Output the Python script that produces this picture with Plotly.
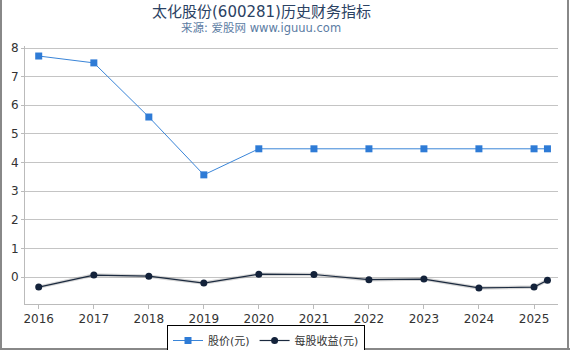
import plotly.graph_objects as go

dates = ["2016-01-01", "2017-01-01", "2018-01-01", "2019-01-01", "2020-01-01",
         "2021-01-01", "2022-01-01", "2023-01-01", "2024-01-01", "2025-01-01", "2025-03-31"]
price = [7.72, 7.48, 5.59, 3.57, 4.48, 4.48, 4.48, 4.48, 4.48, 4.48, 4.48]
eps = [-0.35, 0.07, 0.03, -0.21, 0.10, 0.09, -0.09, -0.07, -0.38, -0.35, -0.11]
tick_years = ["2016", "2017", "2018", "2019", "2020", "2021", "2022", "2023", "2024", "2025"]

FONT = "DejaVu Sans, Noto Sans CJK SC, sans-serif"

fig = go.Figure()
fig.add_trace(go.Scatter(x=dates, y=eps, mode="lines", line=dict(color="rgba(120,120,120,0.3)", width=3.5),
                         showlegend=False, hoverinfo="skip"))
fig.add_trace(go.Scatter(x=dates, y=price, mode="lines+markers", name="股价(元)",
                         line=dict(color="#3a85d8", width=1),
                         marker=dict(symbol="square", size=7, color="#2e7bd6")))
fig.add_trace(go.Scatter(x=dates, y=eps, mode="lines+markers", name="每股收益(元)",
                         line=dict(color="#1b2a3f", width=1.2),
                         marker=dict(symbol="circle", size=7, color="#13223a")))

L, R, T, B = 25, 12, 46, 46
W, H = 570, 350
pw, ph = W - L - R, H - T - B
def px(x):
    return (x - L) / pw
def py(y):
    return (H - B - y) / ph

fig.update_layout(
    width=W, height=H,
    margin=dict(l=L, r=R, t=T, b=B, autoexpand=False),
    paper_bgcolor="white", plot_bgcolor="white",
    font=dict(family=FONT, size=12, color="#333333"),
    showlegend=True,
    legend=dict(orientation="h", xref="container", yref="container",
                x=266 / W, y=1 - 325 / H, xanchor="center", yanchor="top",
                bordercolor="#000000", borderwidth=1, font=dict(size=11, color="#333333"),
                itemwidth=30, tracegroupgap=0),
    annotations=[
        dict(text="太化股份(600281)历史财务指标", x=px(261), y=py(12), xref="paper", yref="paper",
             showarrow=False, font=dict(size=15, color="#2b4263", family=FONT), xanchor="center", yanchor="middle"),
        dict(text="来源: 爱股网 www.iguuu.com", x=px(261), y=py(28), xref="paper", yref="paper",
             showarrow=False, font=dict(size=11.5, color="#5b7ca3", family=FONT), xanchor="center", yanchor="middle"),
    ],
    shapes=[
        dict(type="line", xref="paper", yref="paper", x0=px(1), x1=px(1), y0=py(0), y1=py(349),
             line=dict(color="#888888", width=2)),
        dict(type="line", xref="paper", yref="paper", x0=px(568), x1=px(568), y0=py(0), y1=py(349),
             line=dict(color="#888888", width=2)),
        dict(type="line", xref="paper", yref="paper", x0=px(0), x1=px(570), y0=py(349), y1=py(349),
             line=dict(color="#888888", width=2)),
    ],
)
fig.update_xaxes(type="date", range=["2015-10-02", "2025-06-09"],
                 tickvals=[y + "-01-01" for y in tick_years], ticktext=tick_years,
                 showgrid=False, showline=True, linecolor="#bbbbbb", linewidth=1,
                 ticks="outside", ticklen=4, tickcolor="#bbbbbb", zeroline=False,
                 tickfont=dict(size=12, color="#333333"))
fig.update_yaxes(range=[-0.94, 8.07], dtick=1, tick0=0,
                 showgrid=True, gridcolor="#c4c4c4", gridwidth=1,
                 showline=True, linecolor="#bbbbbb", linewidth=1,
                 ticks="outside", ticklen=3, tickcolor="#bbbbbb", zeroline=False,
                 tickfont=dict(size=12, color="#333333"))

fig.write_html("out.html")
